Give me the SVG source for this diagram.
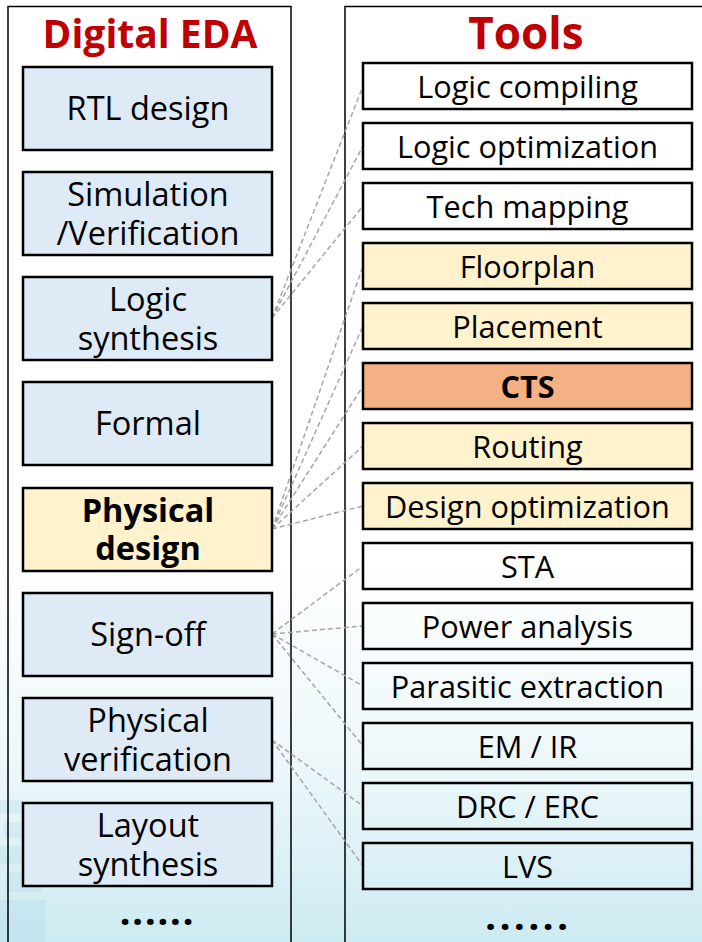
<svg xmlns="http://www.w3.org/2000/svg" width="702" height="942" viewBox="0 0 702 942">
  <defs>
    <linearGradient id="bg" x1="0" y1="0" x2="0" y2="942" gradientUnits="userSpaceOnUse">
      <stop offset="0" stop-color="#ffffff"/>
      <stop offset="0.58" stop-color="#ffffff"/>
      <stop offset="0.8" stop-color="#eef8fb"/>
      <stop offset="1" stop-color="#cdebf2"/>
    </linearGradient>
    <style>
      .panel { fill: none; stroke: #000; stroke-width: 1.5; }
      .box { stroke: #000; stroke-width: 2.5; }
      .blue { fill: #deebf7; }
      .yellow { fill: #fff2cc; }
      .orange { fill: #f4b183; }
      .plain { fill: none; }
      .title { font-family: "Open Sans", "Liberation Sans", sans-serif; font-weight: bold; fill: #c00000; text-anchor: middle; }
      .lbl { font-family: "Open Sans", "Liberation Sans", sans-serif; font-size: 32.5px; fill: #000; text-anchor: middle; }
      .tool { font-family: "Open Sans", "Liberation Sans", sans-serif; font-size: 30.7px; fill: #000; text-anchor: middle; }
      .bold { font-weight: bold; }
      .dots { font-family: "Noto Sans", sans-serif; font-weight: bold; font-size: 38px; fill: #000; text-anchor: middle; }
      .link { fill: none; stroke: #a6a6a6; stroke-width: 1.5; stroke-dasharray: 5 3; }
    </style>
  </defs>

  <!-- page background -->
  <rect x="0" y="0" width="702" height="942" fill="url(#bg)"/>
  <g id="backdrop" fill="#9ccbe3" opacity="0.18">
    <rect x="0" y="800" width="24" height="14"/>
    <rect x="4" y="822" width="30" height="16"/>
    <rect x="0" y="846" width="40" height="18"/>
    <rect x="6" y="872" width="36" height="20"/>
    <rect x="0" y="900" width="46" height="42"/>
  </g>

  <!-- column frames -->
  <rect class="panel" x="8" y="6.5" width="283" height="960"/>
  <rect class="panel" x="345" y="6.5" width="380" height="960"/>

  <text class="title" x="150" y="48" font-size="39">Digital EDA</text>
  <text class="title" x="526" y="49" font-size="44">Tools</text>

  <!-- connectors -->
  <g id="connectors">
    <path class="link" d="M272 318 L363 86"/>
    <path class="link" d="M272 318 L363 146"/>
    <path class="link" d="M272 318 L363 206"/>
    <path class="link" d="M272 529 L363 266"/>
    <path class="link" d="M272 529 L363 326"/>
    <path class="link" d="M272 529 L363 386"/>
    <path class="link" d="M272 529 L363 446"/>
    <path class="link" d="M272 529 L363 506"/>
    <path class="link" d="M272 634 L363 566"/>
    <path class="link" d="M272 634 L363 626"/>
    <path class="link" d="M272 634 L363 686"/>
    <path class="link" d="M272 634 L363 746"/>
    <path class="link" d="M272 740 L363 806"/>
    <path class="link" d="M272 740 L363 866"/>
  </g>

  <!-- flow stages -->
  <g id="rtl-design"><rect class="box blue" x="23" y="67" width="249" height="83"/><text class="lbl" x="148" y="120">RTL design</text></g>
  <g id="simulation"><rect class="box blue" x="23" y="172" width="249" height="83"/><text class="lbl"><tspan x="148" y="206">Simulation</tspan><tspan x="148" y="245">/Verification</tspan></text></g>
  <g id="logic-synthesis"><rect class="box blue" x="23" y="277" width="249" height="83"/><text class="lbl"><tspan x="148" y="311">Logic</tspan><tspan x="148" y="350">synthesis</tspan></text></g>
  <g id="formal"><rect class="box blue" x="23" y="382" width="249" height="83"/><text class="lbl" x="148" y="435">Formal</text></g>
  <g id="physical-design"><rect class="box yellow" x="23" y="488" width="249" height="83"/><text class="lbl bold"><tspan x="148" y="522">Physical</tspan><tspan x="148" y="560">design</tspan></text></g>
  <g id="sign-off"><rect class="box blue" x="23" y="593" width="249" height="83"/><text class="lbl" x="148" y="646">Sign-off</text></g>
  <g id="physical-verification"><rect class="box blue" x="23" y="698" width="249" height="83"/><text class="lbl"><tspan x="148" y="732">Physical</tspan><tspan x="148" y="771">verification</tspan></text></g>
  <g id="layout-synthesis"><rect class="box blue" x="23" y="803" width="249" height="83"/><text class="lbl"><tspan x="148" y="837">Layout</tspan><tspan x="148" y="876">synthesis</tspan></text></g>
  <text class="dots" x="157.5" y="925" letter-spacing="1.9">......</text>

  <!-- tools -->
  <g id="logic-compiling"><rect class="box plain" x="363" y="63" width="329" height="46"/><text class="tool" x="527.5" y="98">Logic compiling</text></g>
  <g id="logic-optimization"><rect class="box plain" x="363" y="123" width="329" height="46"/><text class="tool" x="527.5" y="158">Logic optimization</text></g>
  <g id="tech-mapping"><rect class="box plain" x="363" y="183" width="329" height="46"/><text class="tool" x="527.5" y="218">Tech mapping</text></g>
  <g id="floorplan"><rect class="box yellow" x="363" y="243" width="329" height="46"/><text class="tool" x="527.5" y="278">Floorplan</text></g>
  <g id="placement"><rect class="box yellow" x="363" y="303" width="329" height="46"/><text class="tool" x="527.5" y="338">Placement</text></g>
  <g id="cts"><rect class="box orange" x="363" y="363" width="329" height="46"/><text class="tool bold" x="527.5" y="398">CTS</text></g>
  <g id="routing"><rect class="box yellow" x="363" y="423" width="329" height="46"/><text class="tool" x="527.5" y="458">Routing</text></g>
  <g id="design-optimization"><rect class="box yellow" x="363" y="483" width="329" height="46"/><text class="tool" x="527.5" y="518">Design optimization</text></g>
  <g id="sta"><rect class="box plain" x="363" y="543" width="329" height="46"/><text class="tool" x="527.5" y="578">STA</text></g>
  <g id="power-analysis"><rect class="box plain" x="363" y="603" width="329" height="46"/><text class="tool" x="527.5" y="638">Power analysis</text></g>
  <g id="parasitic-extraction"><rect class="box plain" x="363" y="663" width="329" height="46"/><text class="tool" x="527.5" y="698">Parasitic extraction</text></g>
  <g id="em-ir"><rect class="box plain" x="363" y="723" width="329" height="46"/><text class="tool" x="527.5" y="758">EM / IR</text></g>
  <g id="drc-erc"><rect class="box plain" x="363" y="783" width="329" height="46"/><text class="tool" x="527.5" y="818">DRC / ERC</text></g>
  <g id="lvs"><rect class="box plain" x="363" y="843" width="329" height="46"/><text class="tool" x="527.5" y="878">LVS</text></g>
  <text class="dots" x="528.5" y="930" letter-spacing="3.7">......</text>
</svg>
